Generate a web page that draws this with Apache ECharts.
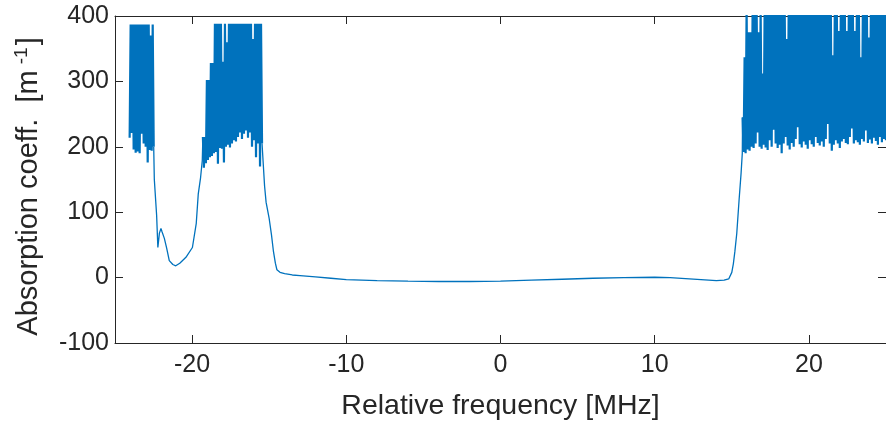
<!DOCTYPE html>
<html>
<head>
<meta charset="utf-8">
<script src="https://cdn.jsdelivr.net/npm/echarts@6/dist/echarts.min.js"></script>
<style>
html,body{margin:0;padding:0;background:#fff;}
#c{width:886px;height:430px;}
</style>
</head>
<body>
<div id="c"></div>
<script>
// ---- Data ----
const xTicks = [-20, -10, 0, 10, 20];
const yTicks = [-100, 0, 100, 200, 300, 400];

// noisy block 1 (uniform frequency grid)
const noise1Start = -24.05, noise1Step = 0.065;
const noise1 = [214, 387, 221, 387, 196, 387, 191, 387, 193, 387, 190, 387, 220, 387, 205, 387, 200, 387, 176, 387, 195, 370, 194, 387, 200];

// dip between the two left blocks
const dipFreq = [-22.45, -22.3, -22.22, -22.12, -22.02, -21.95, -21.8, -21.65, -21.48, -21.25, -21.06, -20.8, -20.4, -19.98, -19.73, -19.6, -19.45, -19.34];
const dipVal  = [150, 95, 46, 68, 75, 70, 60, 45, 26, 20, 18, 22, 31, 46, 83, 128, 153, 179];

// noisy block 2
const noise2Start = -19.3, noise2Step = 0.065;
const noise2 = [215, 168, 215, 175, 302, 180, 302, 184, 328, 186, 328, 190, 388, 192, 388, 174, 388, 198, 388, 197,
                330, 176, 388, 200, 360, 203, 388, 199, 388, 205, 388, 210, 388, 208, 388, 215, 388, 222, 388, 212,
                388, 220, 388, 225, 388, 214, 388, 222, 388, 200, 365, 210, 388, 184, 388, 205, 388, 170, 388, 205];

// smooth central region
const midFreq = [-15.3, -15.2, -15.0, -14.85, -14.73, -14.6, -14.5, -14.3, -14.0, -13.5, -13, -12, -11, -10, -8, -6, -4, -2, 0, 2, 4, 6, 8, 10, 11, 12, 13, 14, 14.5, 14.8, 15.0, 15.1, 15.2, 15.32, 15.47, 15.6, 15.68];
const midVal  = [140, 115, 90, 65, 41, 22, 12, 8, 6, 4, 3, 1, -1, -3, -4.5, -5.5, -6, -6, -5.5, -4, -2.5, -1, 0, 0.5, 0, -1.5, -3, -4.5, -4, -2, 8, 21, 40, 67, 118, 159, 190];

// noisy block 3
const noise3Start = 15.7, noise3Step = 0.065;
const noise3 = [245, 192, 337, 190, 410, 196, 375, 194, 375, 200, 410, 198, 410, 205, 410, 222, 375, 200, 410, 197,
                312, 203, 410, 199, 410, 195, 410, 210, 410, 200, 410, 226, 410, 205, 410, 198, 410, 203, 410, 190,
                410, 205, 410, 215, 365, 202, 410, 196, 410, 206, 410, 200, 410, 212, 410, 230, 410, 204, 410, 199,
                410, 208, 410, 203, 410, 197, 410, 210, 410, 204, 410, 200, 410, 215, 410, 206, 410, 202, 410, 208,
                410, 200, 410, 212, 410, 235, 410, 205, 410, 194, 340, 203, 410, 210, 410, 205, 377, 198, 410, 208,
                410, 212, 410, 206, 377, 204, 410, 215, 410, 228, 410, 205, 377, 210, 410, 207, 410, 203, 337, 212,
                410, 208, 410, 225, 410, 206, 367, 211, 410, 205, 410, 214, 410, 209, 410, 203, 410, 215, 410, 207,
                410, 212, 410, 210];

// ---- Build series data ----
const n1 = noise1.map((v, i) => [noise1Start + i * noise1Step, v]);
const n2 = noise2.map((v, i) => [noise2Start + i * noise2Step, v]);
const n3 = noise3.map((v, i) => [noise3Start + i * noise3Step, v]);
const dip = [n1[n1.length - 1]].concat(dipFreq.map((f, i) => [f, dipVal[i]]), [n2[0]]);
const mid = [n2[n2.length - 1]].concat(midFreq.map((f, i) => [f, midVal[i]]), [n3[0]]);

const lineColor = '#0072BD';
const axisColor = '#262626';
const font = 'Liberation Sans, Arial, Helvetica, sans-serif';

function lineSeries(data, w) {
  return {
    type: 'line', xAxisIndex: 0, yAxisIndex: 0,
    data: data, showSymbol: false, symbol: 'none', clip: true,
    lineStyle: {color: lineColor, width: w},
    emphasis: {disabled: true}
  };
}

const chart = echarts.init(document.getElementById('c'), null, {renderer: 'canvas'});
chart.setOption({
  animation: false,
  backgroundColor: '#fff',
  grid: {left: 115, top: 16, width: 777, height: 327, containLabel: false},
  xAxis: [{
    type: 'value', min: -25, max: 25, position: 'bottom',
    name: 'Relative frequency [MHz]', nameLocation: 'middle', nameGap: 49,
    nameTextStyle: {fontFamily: font, fontSize: 28.5, color: axisColor},
    axisLine: {show: true, onZero: false, lineStyle: {color: axisColor, width: 1}},
    axisTick: {show: true, inside: true, length: 8, customValues: xTicks, lineStyle: {color: axisColor}},
    axisLabel: {show: true, customValues: xTicks, margin: 10, fontFamily: font, fontSize: 25, color: axisColor},
    splitLine: {show: false}
  }, {
    type: 'value', min: -25, max: 25, position: 'top',
    axisLine: {show: true, onZero: false, lineStyle: {color: axisColor, width: 1}},
    axisTick: {show: true, inside: true, length: 8, customValues: xTicks, lineStyle: {color: axisColor}},
    axisLabel: {show: false},
    splitLine: {show: false}
  }],
  yAxis: [{
    type: 'value', min: -100, max: 400, interval: 100, position: 'left',
    name: '{a|Absorption coeff.  [m}{s|-1}{a|]}', nameLocation: 'middle', nameGap: 70, nameRotate: 90,
    nameTextStyle: {
      fontFamily: font, fontSize: 29, color: axisColor, padding: [0, 14, 0, 0],
      rich: {
        a: {fontFamily: font, fontSize: 29, color: axisColor},
        s: {fontFamily: font, fontSize: 19, color: axisColor, padding: [0, 2, 14, 6]}
      }
    },
    axisLine: {show: true, onZero: false, lineStyle: {color: axisColor, width: 1}},
    axisTick: {show: true, inside: true, length: 8, lineStyle: {color: axisColor}},
    axisLabel: {show: true, margin: 6, fontFamily: font, fontSize: 25, color: axisColor},
    splitLine: {show: false}
  }, {
    type: 'value', min: -100, max: 400, interval: 100, position: 'right',
    axisLine: {show: true, onZero: false, lineStyle: {color: axisColor, width: 1}},
    axisTick: {show: true, inside: true, length: 8, lineStyle: {color: axisColor}},
    axisLabel: {show: false},
    splitLine: {show: false}
  }],
  series: [
    lineSeries(n1, 2.2),
    lineSeries(dip, 1.3),
    lineSeries(n2, 2.2),
    lineSeries(mid, 1.3),
    lineSeries(n3, 2.2)
  ]
});
</script>
</body>
</html>
